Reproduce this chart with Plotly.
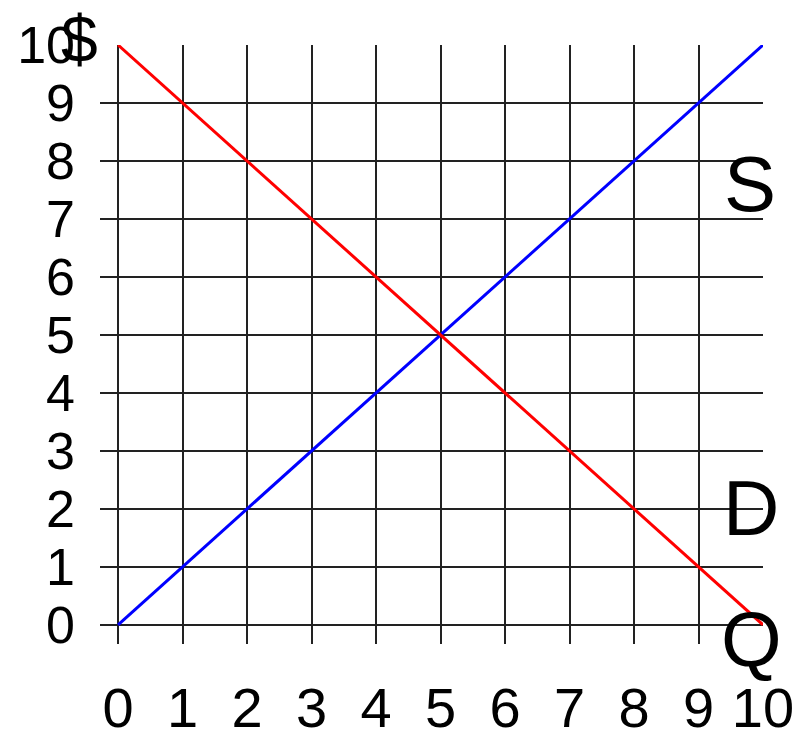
import plotly.graph_objects as go

quantity = [0, 1, 2, 3, 4, 5, 6, 7, 8, 9, 10]
supply_price = [0, 1, 2, 3, 4, 5, 6, 7, 8, 9, 10]
demand_price = [10, 9, 8, 7, 6, 5, 4, 3, 2, 1, 0]
x_ticks = [0, 1, 2, 3, 4, 5, 6, 7, 8, 9, 10]
y_ticks = [0, 1, 2, 3, 4, 5, 6, 7, 8, 9, 10]

FONT = "Liberation Sans, Arial, sans-serif"

fig = go.Figure()
fig.add_trace(go.Scatter(x=quantity, y=supply_price, mode="lines",
                         line=dict(color="#0000ff", width=3), name="S"))
fig.add_trace(go.Scatter(x=quantity, y=demand_price, mode="lines",
                         line=dict(color="#ff0000", width=3), name="D"))

labels = [
    ("S", 9.8, 7.6),
    ("D", 9.82, 2.02),
    ("Q", 9.82, -0.24),
]
for txt, ax, ay in labels:
    fig.add_annotation(x=ax, y=ay, xref="x", yref="y", text=txt, showarrow=False,
                       xanchor="center", yanchor="middle",
                       font=dict(family=FONT, size=78, color="black"))
fig.add_annotation(x=-0.031, y=1.01, xref="paper", yref="paper", text="$",
                   showarrow=False, xanchor="center", yanchor="middle",
                   font=dict(family=FONT, size=66, color="black"))

fig.update_layout(
    width=798, height=731,
    margin=dict(l=92, r=43, t=37, b=95),
    paper_bgcolor="white", plot_bgcolor="white",
    showlegend=False,
    xaxis=dict(range=[-0.28, 10], tickvals=x_ticks, ticktext=[str(v) for v in x_ticks],
               showgrid=True, gridcolor="#222222", gridwidth=2, zeroline=False,
               showline=False, ticks="", ticklabelstandoff=26, automargin=False,
               tickfont=dict(family=FONT, size=56, color="black")),
    yaxis=dict(range=[-0.33, 10], tickvals=y_ticks, ticktext=[str(v) for v in y_ticks],
               showgrid=True, gridcolor="#222222", gridwidth=2, zeroline=False,
               showline=False, ticks="", ticklabelstandoff=24, automargin=False,
               tickfont=dict(family=FONT, size=52, color="black")),
)

fig.write_html("out.html")
